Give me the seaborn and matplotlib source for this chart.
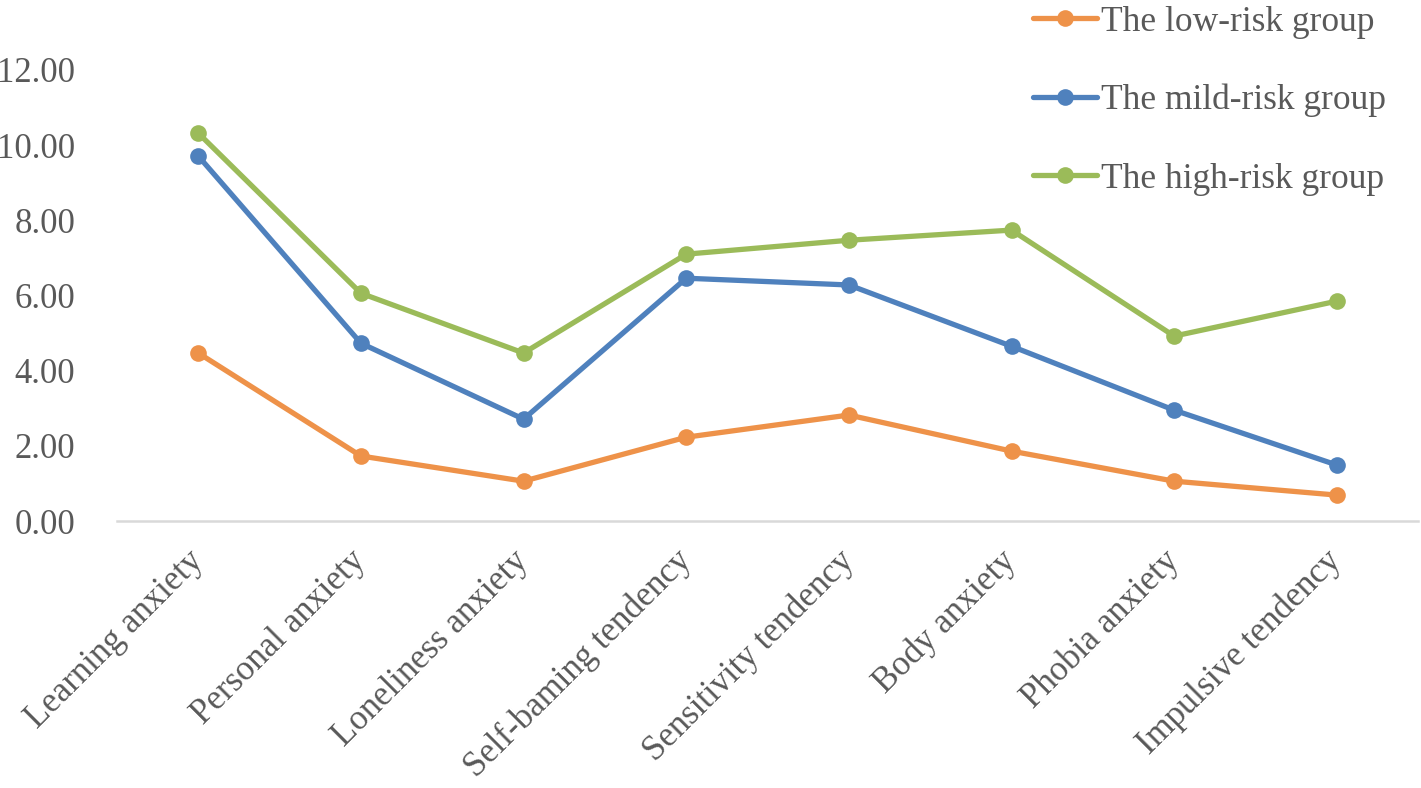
import pandas as pd
import matplotlib
matplotlib.use('Agg')
import matplotlib.pyplot as plt
import seaborn as sns

# 数据
categories = ['Learning anxiety', 'Personal anxiety', 'Loneliness anxiety', 'Self-baming tendency',
              'Sensitivity tendency', 'Body anxiety', 'Phobia anxiety', 'Impulsive tendency']
low_risk = [4.47, 1.73, 1.06, 2.23, 2.82, 1.86, 1.06, 0.69]
mild_risk = [9.71, 4.73, 2.71, 6.46, 6.28, 4.65, 2.95, 1.49]
high_risk = [10.32, 6.06, 4.47, 7.10, 7.47, 7.74, 4.92, 5.85]
groups = ['The low-risk group', 'The mild-risk group', 'The high-risk group']
colors = ['#EE9249', '#4F81BD', '#9BBB59']

# 整理成长表
rows = []
for g, vals in zip(groups, [low_risk, mild_risk, high_risk]):
    for c, v in zip(categories, vals):
        rows.append({'category': c, 'value': v, 'group': g})
df = pd.DataFrame(rows)

sns.set_style('white')
plt.rcParams['font.family'] = ['Liberation Serif', 'DejaVu Serif']
text_color = '#595959'

fig = plt.figure(figsize=(14.21, 7.88), dpi=100)
ax = fig.add_axes([0.0823, 0.3388, 0.9157, 0.5724])
sns.lineplot(data=df, x='category', y='value', hue='group', palette=colors,
             marker='o', markersize=12, markeredgewidth=0, linewidth=3.8,
             sort=False, ax=ax)

ax.set_xlim(-0.5, 7.5)
ax.set_ylim(0, 12)
ax.set_yticks(range(0, 13, 2))
ax.set_yticklabels(['%.2f' % v for v in range(0, 13, 2)])
ax.set_xlabel('')
ax.set_ylabel('')
for s in ['top', 'right', 'left']:
    ax.spines[s].set_visible(False)
ax.spines['bottom'].set_color('#D9D9D9')
ax.spines['bottom'].set_linewidth(1.8)
ax.tick_params(axis='both', length=0, labelsize=25, colors=text_color)
ax.tick_params(axis='y', pad=30)
ax.tick_params(axis='x', pad=25)
for lab in ax.get_xticklabels():
    lab.set_rotation(45)
    lab.set_ha('right')
    lab.set_va('center')
    lab.set_rotation_mode('anchor')
for line in ax.lines:
    line.set_clip_on(False)

# 图例
handles, labels = ax.get_legend_handles_labels()
for h in handles:
    h.set_linewidth(3.8)
    h.set_markersize(12)
ax.legend(handles, labels, loc='upper left', bbox_to_anchor=(1033 / 1421, 0.993),
          bbox_transform=fig.transFigure, frameon=False, fontsize=25.5,
          labelcolor=text_color, handlelength=1.8, handletextpad=0.12,
          labelspacing=1.28, borderaxespad=0.0, borderpad=0.0)

fig.savefig('out.png', dpi=100)
